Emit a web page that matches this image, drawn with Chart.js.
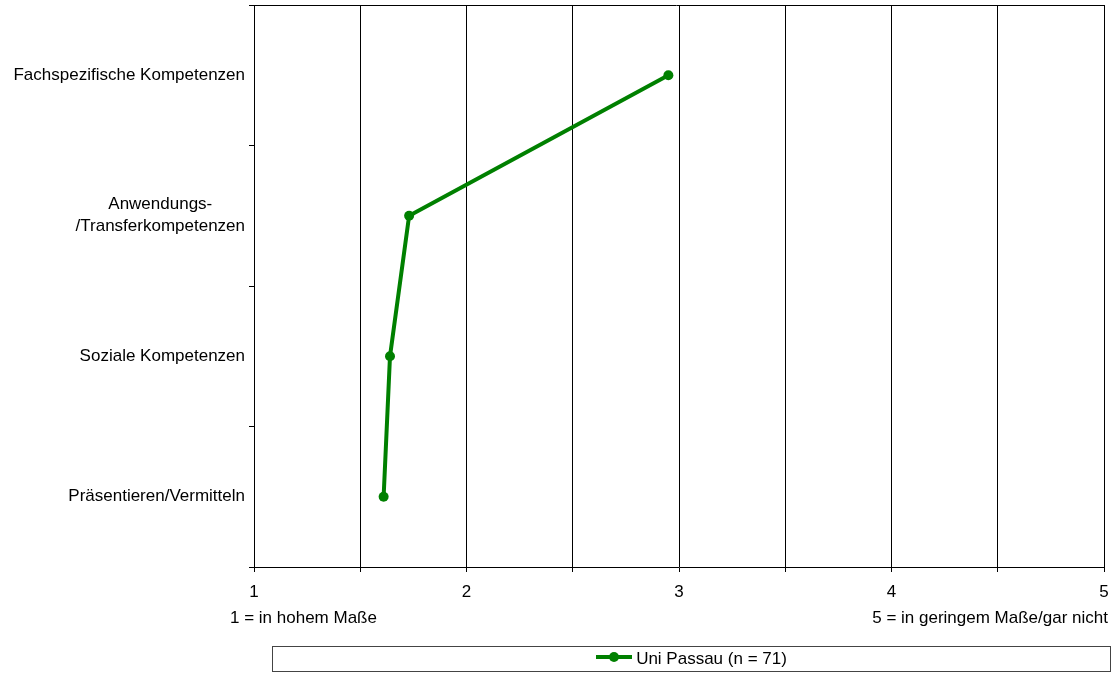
<!DOCTYPE html>
<html>
<head>
<meta charset="utf-8">
<script src="https://cdn.jsdelivr.net/npm/chart.js@4.4.1/dist/chart.umd.min.js"></script>
<style>
  body { margin: 0; background: #fff; font-family: 'Liberation Sans', Arial, sans-serif; }
  #wrap { position: relative; width: 1116px; height: 675px; }
  .note { position: absolute; top: 608px; font-size: 17px; color: #000; line-height: 20px; white-space: nowrap; }
  #legend {
    position: absolute; left: 272px; top: 646px; width: 839px; height: 26px;
    border: 1px solid #444; box-sizing: border-box;
    display: flex; align-items: center; justify-content: center;
    font-size: 17px; color: #000;
  }
  .sym { position: relative; width: 36px; height: 10px; margin-right: 4px; top: -2px; }
  .sym .ln { position: absolute; left: 0; right: 0; top: 3px; height: 4px; background: #008000; }
  .sym .dot { position: absolute; left: 13px; top: 0; width: 10px; height: 10px; border-radius: 50%; background: #008000; }
</style>
</head>
<body>
<div id="wrap">
  <canvas id="chart" width="1116" height="675"></canvas>
  <div class="note" style="left:230px">1 = in hohem Maße</div>
  <div class="note" style="right:8px">5 = in geringem Maße/gar nicht</div>
  <div id="legend"><span class="sym"><span class="ln"></span><span class="dot"></span></span><span>Uni Passau (n = 71)</span></div>
</div>
<script>
// ── Data ──────────────────────────────────────────────────────
const categories = [
  'Fachspezifische Kompetenzen',
  ['Anwendungs-', '/Transferkompetenzen'],
  'Soziale Kompetenzen',
  'Präsentieren/Vermitteln'
];
const uniPassau = [2.95, 1.73, 1.64, 1.61];
const seriesLabel = 'Uni Passau (n = 71)';
const xMin = 1, xMax = 5, xStep = 0.5;

const FONT = '17px "Liberation Sans", Arial, sans-serif';
const LABEL_RIGHT = 245;
const LINE_H = 22;

// y category labels: block right-aligned, lines centred inside it (Excel style)
const yLabels = {
  id: 'yLabels',
  afterDraw(chart) {
    const ctx = chart.ctx, sc = chart.scales.y;
    ctx.save();
    ctx.font = FONT;
    ctx.fillStyle = '#000';
    ctx.textAlign = 'center';
    ctx.textBaseline = 'middle';
    categories.forEach((lbl, i) => {
      const lines = Array.isArray(lbl) ? lbl : [lbl];
      const w = Math.max(...lines.map(l => ctx.measureText(l).width));
      const cx = LABEL_RIGHT - w / 2;
      const y0 = sc.getPixelForValue(i) - (lines.length - 1) * LINE_H / 2;
      lines.forEach((l, k) => ctx.fillText(l, cx, y0 + k * LINE_H));
    });
    ctx.restore();
  }
};

// top frame line of the plot area
const topLine = {
  id: 'topLine',
  afterDatasetsDraw(chart) {
    const { ctx, chartArea: a } = chart;
    ctx.save();
    ctx.strokeStyle = '#000';
    ctx.lineWidth = 1;
    ctx.beginPath();
    ctx.moveTo(a.left - 5, Math.round(a.top) + 0.5);
    ctx.lineTo(a.right, Math.round(a.top) + 0.5);
    ctx.stroke();
    ctx.restore();
  }
};

new Chart(document.getElementById('chart'), {
  type: 'line',
  data: {
    labels: categories,
    datasets: [{
      label: seriesLabel,
      data: uniPassau,
      borderColor: '#008000',
      backgroundColor: '#008000',
      borderWidth: 4,
      pointRadius: 5,
      pointBorderWidth: 0,
      pointBackgroundColor: '#008000',
      tension: 0,
      clip: false
    }]
  },
  options: {
    indexAxis: 'y',
    responsive: false,
    animation: false,
    layout: { padding: { top: 5, right: 12, left: 0, bottom: 0 } },
    plugins: { legend: { display: false }, tooltip: { enabled: false } },
    scales: {
      y: {
        type: 'category',
        offset: true,
        grid: { offset: true, drawOnChartArea: false, drawTicks: true, tickLength: 5, color: '#000' },
        border: { display: true, color: '#000', width: 1 },
        ticks: { display: false },
        afterFit: s => { s.width = 254; }
      },
      x: {
        type: 'linear',
        min: xMin, max: xMax,
        grid: { color: '#000', lineWidth: 1, drawTicks: true, tickLength: 5 },
        border: { display: true, color: '#000', width: 1 },
        ticks: {
          stepSize: xStep,
          color: '#000',
          font: { family: '"Liberation Sans", Arial, sans-serif', size: 17 },
          padding: 10,
          maxRotation: 0,
          autoSkip: false,
          callback: v => Number.isInteger(v) ? v : ''
        },
        afterFit: s => { s.height = 108; s.paddingLeft = 0; s.paddingRight = 0; }
      }
    }
  },
  plugins: [yLabels, topLine]
});
</script>
</body>
</html>
